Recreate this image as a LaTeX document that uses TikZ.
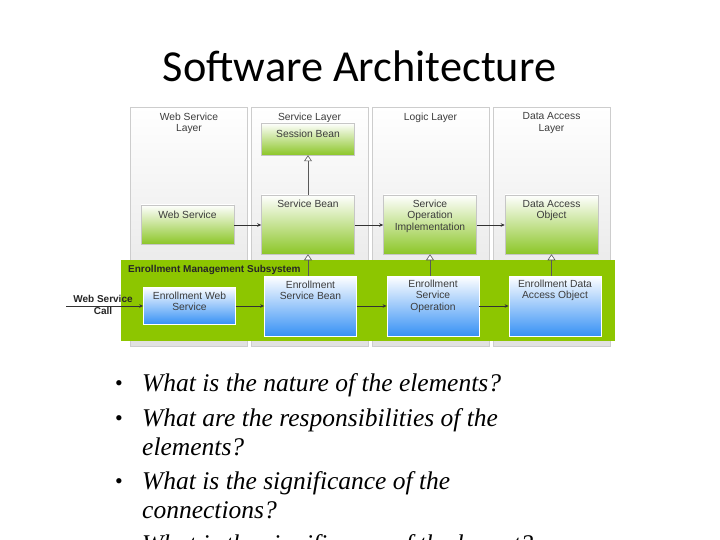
\documentclass[tikz,border=0pt]{standalone}
\usepackage{fontspec}
\setmainfont{Liberation Serif}
\setsansfont{Liberation Sans}
\newfontfamily\titlefont{Carlito}
\usetikzlibrary{arrows.meta}
\definecolor{bandgreen}{RGB}{141,198,0}
\definecolor{boxgreen}{RGB}{140,198,40}
\definecolor{boxblue}{RGB}{55,145,245}
\definecolor{colborder}{RGB}{205,205,205}
\definecolor{txtgray}{RGB}{60,60,60}
\tikzset{
  layercol/.style={draw=colborder, line width=0.8pt, top color=white, bottom color=gray!24, minimum width=117pt, minimum height=239pt, inner sep=0pt},
  greenbox/.style={draw=gray!45, line width=0.5pt, top color=white, bottom color=boxgreen, minimum width=93pt, inner sep=0pt},
  bluebox/.style={draw=white, line width=0.8pt, top color=white, bottom color=boxblue, minimum width=92pt, inner sep=0pt},
  boxtext/.style={font=\sffamily\fontsize{10.3}{11.3}\selectfont, text=txtgray, align=center, inner sep=0pt, anchor=north},
  coltext/.style={font=\sffamily\fontsize{10.3}{11.3}\selectfont, text=txtgray, align=center, inner sep=0pt, anchor=north},
  boldlabel/.style={font=\sffamily\bfseries\fontsize{10}{11}\selectfont, text=black!85, inner sep=0pt},
  flow/.style={draw=black!80, line width=0.6pt, -{Stealth[length=4pt,width=3.5pt]}},
  inherit/.style={draw=gray!70!black, line width=0.6pt, -{Triangle[open,length=6pt,width=8pt,fill=white]}},
  bullettext/.style={font=\itshape\fontsize{25.5}{29}\selectfont, anchor=base west, inner sep=0pt},
  bulletdot/.style={font=\fontsize{22}{26}\selectfont, anchor=base west, inner sep=0pt}
}
\begin{document}
\begin{tikzpicture}[x=1pt,y=-1pt]
\path[use as bounding box, fill=white] (0,0) rectangle (720,540);

% title
\node[font=\titlefont\fontsize{44.3}{48}\selectfont, anchor=base] (title) at (359.5,82) {Software Architecture};

% layer columns
\node[layercol] (col1) at (189,226.5) {};
\node[layercol] (col2) at (309.5,226.5) {};
\node[layercol] (col3) at (430.5,226.5) {};
\node[layercol] (col4) at (551.5,226.5) {};
\node[coltext] (col1t) at (189,112.5) {Web Service\\Layer};
\node[coltext] (col2t) at (309.5,112.5) {Service Layer};
\node[coltext] (col3t) at (430.5,112.5) {Logic Layer};
\node[coltext] (col4t) at (551.5,112.5) {Data Access\\Layer};

% green boxes
\node[greenbox, minimum height=32pt] (session) at (308,139) {};
\node[boxtext] (sessiont) at (308,129.5) {Session Bean};
\node[greenbox, minimum height=39pt] (websvc) at (187.5,224.5) {};
\node[boxtext] (websvct) at (187.5,211) {Web Service};
\node[greenbox, minimum height=59pt] (svcbean) at (308,224.5) {};
\node[boxtext] (svcbeant) at (308,199.5) {Service Bean};
\node[greenbox, minimum height=59pt] (soi) at (430,224.5) {};
\node[boxtext] (soit) at (430,200) {Service\\Operation\\Implementation};
\node[greenbox, minimum height=59pt] (dao) at (551.5,224.5) {};
\node[boxtext] (daot) at (551.5,200) {Data Access\\Object};

% enrollment band
\node[fill=bandgreen, minimum width=494pt, minimum height=81pt, inner sep=0pt] (band) at (368,300.5) {};
\node[boldlabel, anchor=base west] (bandt) at (128,272.5) {Enrollment Management Subsystem};

% blue boxes
\node[bluebox, minimum height=37pt] (ews) at (189.5,305.5) {};
\node[boxtext] (ewst) at (189.5,292) {Enrollment Web\\Service};
\node[bluebox, minimum height=60pt] (esb) at (310.5,306) {};
\node[boxtext] (esbt) at (310.5,280.5) {Enrollment\\Service Bean};
\node[bluebox, minimum height=60pt] (eso) at (433,306) {};
\node[boxtext] (esot) at (433,280) {Enrollment\\Service\\Operation};
\node[bluebox, minimum height=60pt] (edao) at (555,306) {};
\node[boxtext] (edaot) at (555,280) {Enrollment Data\\Access Object};

% web service call
\coordinate (callstart) at (66,306);
\node[boldlabel, anchor=base] (callt1) at (103,302.5) {Web Service};
\node[boldlabel, anchor=base] (callt2) at (103,314) {Call};

% flows
\draw[flow] (websvc.east |- 0,225) -- (svcbean.west |- 0,225);
\draw[flow] (svcbean.east |- 0,225) -- (soi.west |- 0,225);
\draw[flow] (soi.east |- 0,225) -- (dao.west |- 0,225);
\draw[flow] (callstart) -- (ews.west |- callstart);
\draw[flow] (ews.east |- 0,306) -- (esb.west |- 0,306);
\draw[flow] (esb.east |- 0,306) -- (eso.west |- 0,306);
\draw[flow] (eso.east |- 0,306) -- (edao.west |- 0,306);

% inheritance
\draw[inherit] (svcbean.north) -- (session.south);
\draw[inherit] (esb.north -| svcbean.south) -- (svcbean.south);
\draw[inherit] (eso.north -| soi.south) -- (soi.south);
\draw[inherit] (edao.north -| dao.south) -- (dao.south);

% bullets
\node[bulletdot] (b1d) at (115,390) {•};
\node[bullettext] (b1) at (142,391) {What is the nature of the elements?};
\node[bulletdot] (b2d) at (115,425) {•};
\node[bullettext] (b2) at (142,426) {What are the responsibilities of the};
\node[bullettext] (b2b) at (142,455) {elements?};
\node[bulletdot] (b3d) at (115,488) {•};
\node[bullettext] (b3) at (142,489) {What is the significance of the};
\node[bullettext] (b3b) at (142,518) {connections?};
\begin{scope}
\clip (0,0) rectangle (720,540);
\node[bulletdot] (b4d) at (115,551) {•};
\node[bullettext] (b4) at (142,552) {What is the significance of the layout?};
\end{scope}
\end{tikzpicture}
\end{document}
